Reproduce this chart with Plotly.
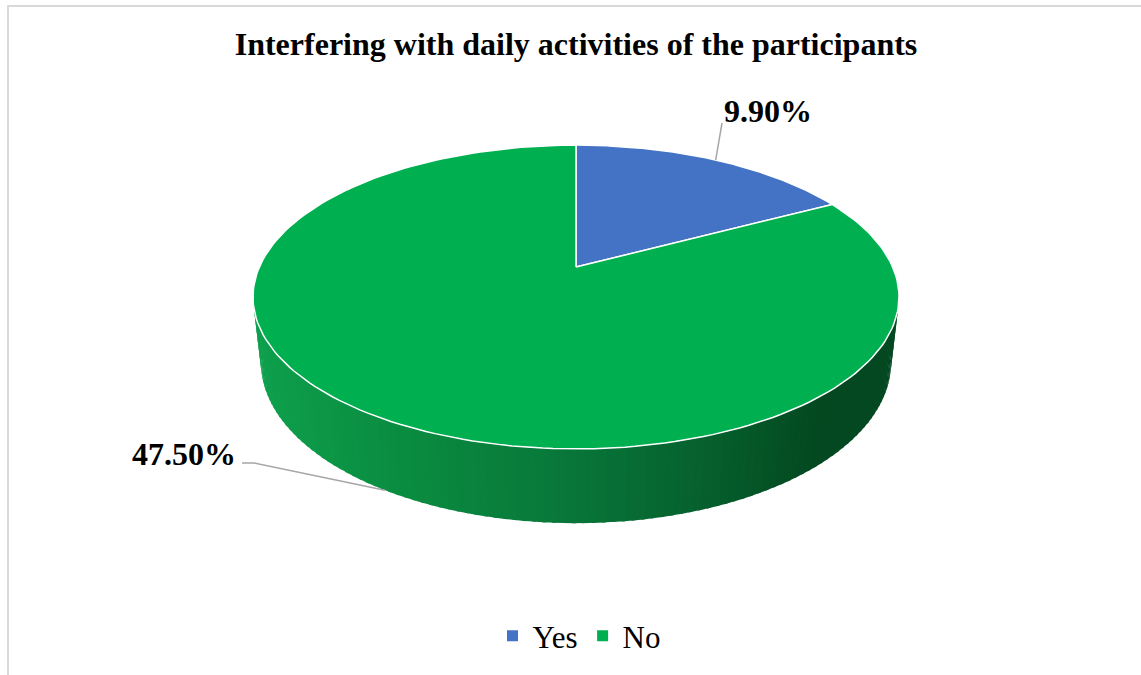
import numpy as np
import plotly.graph_objects as go

# ---- data ----
categories = ["Yes", "No"]
values = [9.9, 47.5]
slice_colors = ["#4472C4", "#00B050"]
title_text = "Interfering with daily activities of the participants"

# ---- 3D-pie projection (layout geometry, pixels) ----
CX, CY = 576.0, 267.0      # projected pie centre
F = 1423.0                 # focal scale
ELEV = np.arcsin(0.461)    # tilt
S, C = np.sin(ELEV), np.cos(ELEV)
D = 4.494                  # camera distance (disc radius units)
H = 0.234                  # thickness (disc radius units)


def proj(theta_deg, hz):
    t = np.radians(theta_deg)
    X = np.sin(t)
    Zb = np.cos(t)
    yc = Zb * S + hz * C
    depth = D + Zb * C - hz * S
    return CX + F * X / depth, CY - F * yc / depth


total = sum(values)
bounds = [0.0]
for v in values:
    bounds.append(bounds[-1] + 360.0 * v / total)

fig = go.Figure()

# side wall colour ramp (by screen x)
ramp_x = [253, 400, 550, 700, 820, 900]
ramp_r = [14, 10, 8, 6, 3, 3]
ramp_g = [160, 140, 121, 97, 72, 72]
ramp_b = [77, 64, 58, 46, 32, 32]

# side walls (front part only)
for i, cat in enumerate(categories):
    a0, a1 = max(bounds[i], 92.0), min(bounds[i + 1], 268.0)
    if a1 <= a0:
        continue
    n = int(np.ceil((a1 - a0) / 1.5))
    edges = np.linspace(a0, a1, n + 1)
    for j in range(n):
        t1, t2 = edges[j], min(edges[j + 1] + 0.6, a1)
        ts = np.linspace(t1, t2, 3)
        xt, yt = proj(ts, 0.0)
        xb, yb = proj(ts[::-1], -H)
        xs = np.concatenate([xt, xb, xt[:1]])
        ys = np.concatenate([yt, yb, yt[:1]])
        mx = float(np.mean(xs))
        r = np.interp(mx, ramp_x, ramp_r)
        g = np.interp(mx, ramp_x, ramp_g)
        b = np.interp(mx, ramp_x, ramp_b)
        col = f"rgb({r:.0f},{g:.0f},{b:.0f})"
        fig.add_trace(go.Scatter(x=xs, y=ys, mode="lines", fill="toself",
                                 fillcolor=col, line=dict(color=col, width=0),
                                 hoverinfo="skip", showlegend=False))

# top faces
for i, cat in enumerate(categories):
    ts = np.linspace(bounds[i], bounds[i + 1], 200)
    xa, ya = proj(ts, 0.0)
    xs = np.concatenate([[CX], xa, [CX]])
    ys = np.concatenate([[CY], ya, [CY]])
    fig.add_trace(go.Scatter(x=xs, y=ys, mode="lines", fill="toself",
                             fillcolor=slice_colors[i],
                             line=dict(color="white", width=1.5),
                             hoverinfo="skip", showlegend=False))

# data labels with leader lines
label_pos = [(768, 111), (184, 454)]
line_start = [[(722, 123)], [(242, 463), (254, 463)]]
for i, cat in enumerate(categories):
    mid = (bounds[i] + bounds[i + 1]) / 2.0
    front = np.cos(np.radians(mid)) < 0
    ax, ay = proj(mid, -H if front else 0.0)
    pts = line_start[i] + [(float(ax), float(ay))]
    fig.add_trace(go.Scatter(x=[p[0] for p in pts], y=[p[1] for p in pts],
                             mode="lines", line=dict(color="#A6A6A6", width=1.5),
                             hoverinfo="skip", showlegend=False))
    fig.add_annotation(x=label_pos[i][0], y=label_pos[i][1], xref="x", yref="y",
                       text=f"{values[i]:.2f}%", showarrow=False,
                       font=dict(family="Liberation Serif, Times New Roman, serif",
                                 size=32, color="black", weight=700))

# legend entries
for i, cat in enumerate(categories):
    fig.add_trace(go.Scatter(x=[None], y=[None], mode="markers", name=cat,
                             marker=dict(symbol="square", size=11,
                                         color=slice_colors[i])))

# chart border (only top/left visible in frame)
fig.add_shape(type="rect", xref="x", yref="y", x0=8, y0=6, x1=1160, y1=700,
              line=dict(color="#D9D9D9", width=2), fillcolor="rgba(0,0,0,0)",
              layer="below")

fig.update_layout(
    width=1141, height=675,
    margin=dict(l=0, r=0, t=0, b=0),
    paper_bgcolor="white", plot_bgcolor="white",
    title=dict(text=title_text, x=576 / 1141, xanchor="center",
               y=1 - 44 / 675, yanchor="middle",
               font=dict(family="Liberation Serif, Times New Roman, serif",
                         size=32, color="black", weight=700)),
    xaxis=dict(range=[0, 1141], visible=False, fixedrange=True),
    yaxis=dict(range=[675, 0], visible=False, fixedrange=True),
    showlegend=True,
    legend=dict(orientation="h", x=579 / 1141, xanchor="center",
                y=1 - 636 / 675, yanchor="middle",
                font=dict(family="Liberation Serif, Times New Roman, serif",
                          size=31, color="black"),
                bgcolor="rgba(0,0,0,0)"),
)

fig.write_html("out.html",
               config={"displayModeBar": False},
               post_script="document.body.style.margin='0';"
                           "document.body.style.overflow='hidden';")
